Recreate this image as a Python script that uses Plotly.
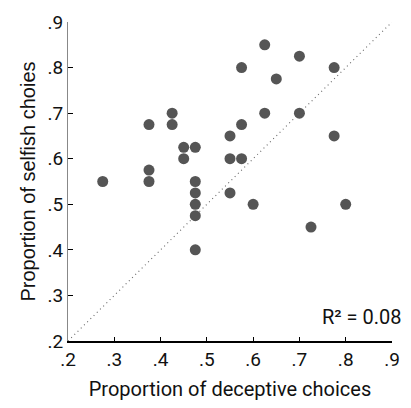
import plotly.graph_objects as go

deceptive = [0.375, 0.425, 0.425, 0.55, 0.575, 0.575, 0.625, 0.625, 0.65, 0.70, 0.70, 0.775, 0.775,
             0.275, 0.375, 0.375, 0.45, 0.475, 0.45, 0.55, 0.575, 0.475, 0.475, 0.475, 0.475,
             0.55, 0.60, 0.80, 0.725, 0.475]
selfish = [0.675, 0.70, 0.675, 0.65, 0.80, 0.675, 0.85, 0.70, 0.775, 0.825, 0.70, 0.80, 0.65,
           0.55, 0.575, 0.55, 0.625, 0.625, 0.60, 0.60, 0.60, 0.55, 0.525, 0.50, 0.475,
           0.525, 0.50, 0.50, 0.45, 0.40]
tick_vals = [0.2, 0.3, 0.4, 0.5, 0.6, 0.7, 0.8, 0.9]
tick_text = [".2", ".3", ".4", ".5", ".6", ".7", ".8", ".9"]
diag = [0.2, 0.9]
r2_text = "R² = 0.08"

FONT = "Roboto"

fig = go.Figure()
fig.add_trace(go.Scatter(x=diag, y=diag, mode="lines",
                         line=dict(color="#666666", width=1.1, dash="1px,3.5px"),
                         hoverinfo="skip", showlegend=False))
fig.add_trace(go.Scatter(x=deceptive, y=selfish, mode="markers",
                         marker=dict(color="#555555", size=11, line=dict(width=0)),
                         showlegend=False))

fig.add_annotation(x=1.0, y=0.0, xref="paper", yref="paper", xanchor="right", yanchor="middle",
                   yshift=24, xshift=12, text=r2_text, showarrow=False,
                   font=dict(family=FONT, size=20, color="#111111"))

fig.update_xaxes(range=[0.2, 0.9], tickvals=tick_vals, ticktext=tick_text,
                 showgrid=False, zeroline=False, showline=True, linecolor="black", linewidth=2,
                 ticks="inside", ticklen=4, tickwidth=1, tickcolor="black",
                 tickfont=dict(family=FONT, size=19, color="#111111"),
                 title=dict(text="Proportion of deceptive choices", standoff=12,
                            font=dict(family=FONT, size=20, color="#111111")))
fig.update_yaxes(range=[0.2, 0.9], tickvals=tick_vals, ticktext=tick_text,
                 showgrid=False, zeroline=False, showline=True, linecolor="#888888", linewidth=1.2,
                 ticks="inside", ticklen=5, tickwidth=1, tickcolor="black",
                 tickfont=dict(family=FONT, size=19, color="#111111"),
                 title=dict(text="Proportion of selfish choies", standoff=6,
                            font=dict(family="Liberation Sans", size=20, color="#111111")))

fig.update_layout(width=411, height=408, margin=dict(l=68, r=11, t=16, b=62),
                  plot_bgcolor="white", paper_bgcolor="white")

fig.write_html("out.html")
